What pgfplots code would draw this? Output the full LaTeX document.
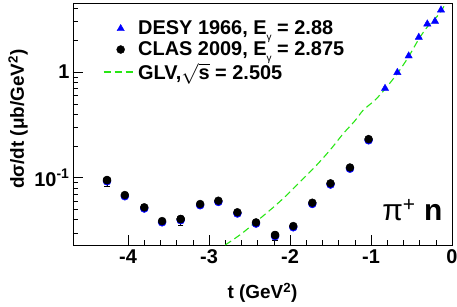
\documentclass[border=0pt]{standalone}
\usepackage{fontspec}
\setmainfont{Liberation Sans}
\usepackage{pgfplots}
\pgfplotsset{compat=1.18}
\definecolor{rootblue}{RGB}{0,0,255}
\definecolor{rootgreen}{RGB}{40,230,20}
\pgfplotsset{
  marklegend/.style={legend image code/.code={\path[draw=none,fill=none] (0bp,0bp) -- (30bp,0bp); \draw[mark repeat=2, mark phase=2, ##1] plot coordinates {(0bp,0bp) (17bp,0bp) (34bp,0bp)};}},
  linelegend/.style={legend image code/.code={\draw[##1] (0bp,0bp) -- (30bp,0bp);}},
}
\begin{document}
\begin{tikzpicture}
\begin{axis}[name=ax, scale only axis, width=379bp, height=242bp,
  ymode=log, xmin=-4.68, xmax=0, ymin=0.0231, ymax=4.5,
  axis line style={line width=0.8pt},
  xtick={-4,-3,-2,-1,0}, xticklabels={-4,-3,-2,-1,0},
  minor x tick num=4,
  ytick={0.1,1}, yticklabels={10\textsuperscript{-1},1},
  minor ytick={0.03,0.04,0.05,0.06,0.07,0.08,0.09,0.2,0.3,0.4,0.5,0.6,0.7,0.8,0.9,2,3,4},
  tick align=inside, xtick pos=bottom, ytick pos=left,
  major tick length=10bp, minor tick length=5bp,
  tick style={black, line width=0.6pt},
  ticklabel style={font=\fontsize{20}{22}\selectfont\bfseries},
  xticklabel style={yshift=-1bp},
  xlabel={t (GeV\textsuperscript{2})},
  xlabel style={at={(axis description cs:0.5,0)}, anchor=center, yshift=-48bp, font=\fontsize{19}{21}\selectfont\bfseries},
  ylabel={dσ/dt (μb/GeV\textsuperscript{2})},
  ylabel style={at={(axis description cs:-0.145,0.52)}, anchor=center, font=\fontsize{19}{21}\selectfont\bfseries},
  legend style={at={(axis description cs:0.079,0.935)}, anchor=north west, draw=none, fill=none,
    font=\fontsize{20}{22}\selectfont\bfseries, row sep=1.5bp, inner sep=0pt, nodes={inner xsep=4bp}},
  legend cell align=left,
]
\addplot[only marks, mark=triangle*, mark size=4.2bp, color=rootblue, marklegend]
  coordinates {(-0.827,0.70) (-0.675,0.99) (-0.535,1.42) (-0.41,2.13) (-0.305,2.85) (-0.21,3.02) (-0.136,3.86)};
\addlegendentry{DESY 1966, E\raisebox{-6bp}{\fontsize{10}{10}\selectfont\mdseries γ} = 2.88}
\addplot[only marks, mark=*, mark size=4bp, color=rootblue, forget plot,
  every mark/.append style={yshift=-1.2bp}]
  coordinates {(-4.26,0.095) (-4.04,0.0686) (-3.80,0.0525) (-3.58,0.0389) (-3.35,0.0407)
   (-3.11,0.0564) (-2.885,0.0606) (-2.65,0.0471) (-2.42,0.0378) (-2.185,0.0287)
   (-1.96,0.0349) (-1.725,0.058) (-1.50,0.0885) (-1.26,0.125) (-1.03,0.232)};
\addplot[only marks, mark=*, mark size=4bp, color=black, forget plot,
  error bars/.cd, y dir=minus, y explicit, error mark options={black, line width=1pt, mark size=2.6bp, rotate=90}, error bar style={line width=0.8pt}]
  coordinates {(-4.26,0.095) -= (0,0.0115) (-3.35,0.0407) -= (0,0.005) (-2.185,0.0287) -= (0,0.0033)};
\addplot[only marks, mark=*, mark size=4bp, color=black, marklegend]
  coordinates {(-4.26,0.095) (-4.04,0.0686) (-3.80,0.0525) (-3.58,0.0389) (-3.35,0.0407)
   (-3.11,0.0564) (-2.885,0.0606) (-2.65,0.0471) (-2.42,0.0378) (-2.185,0.0287)
   (-1.96,0.0349) (-1.725,0.058) (-1.50,0.0885) (-1.26,0.125) (-1.03,0.232)};
\addlegendentry{CLAS 2009, E\raisebox{-6bp}{\fontsize{10}{10}\selectfont\mdseries γ} = 2.875}
\addplot[no marks, smooth, color=rootgreen, line width=1.1pt, dash pattern=on 7bp off 4bp, linelegend]
  coordinates {(-2.80,0.0231) (-2.6,0.0295) (-2.42,0.0383) (-2.2,0.053) (-2.04,0.0686) (-1.85,0.096)
   (-1.67,0.132) (-1.5,0.185) (-1.34,0.263) (-1.2,0.345) (-1.095,0.437) (-0.95,0.543) (-0.82,0.70)
   (-0.675,0.97) (-0.54,1.38) (-0.41,2.05) (-0.3,2.7) (-0.15,3.6) (-0.08,4.5)};
\addlegendentry{GLV,\(\sqrt{\mbox{s}}\) = 2.505}
\node at (axis cs:-0.49,0.0495) {\fontsize{30}{30}\selectfont π\textsuperscript{+} \bfseries n};
\end{axis}
\pgfresetboundingbox
\path ([shift={(-73bp,-62bp)}]ax.south west) rectangle ([shift={(5bp,3bp)}]ax.north east);
\end{tikzpicture}
\end{document}
